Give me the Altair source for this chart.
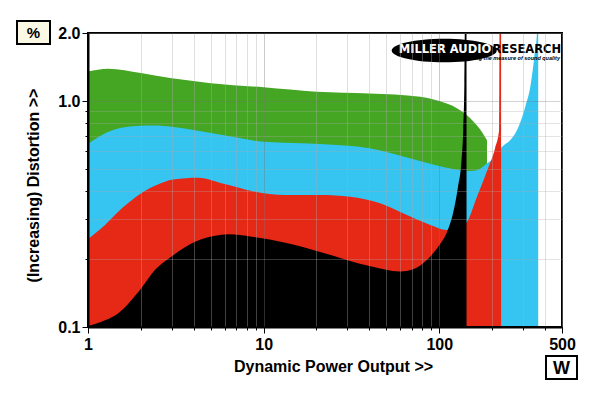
import altair as alt
import pandas as pd

# ---- data (power in W, distortion in %) ----
green_w = [1, 1.3, 2, 3, 5, 10, 20, 40, 78, 100, 126, 140, 157, 175, 187]
green_pct = [1.35, 1.39, 1.33, 1.26, 1.2, 1.15, 1.10, 1.08, 1.045, 1.0, 0.93, 0.88, 0.81, 0.73, 0.67]

blue_w = [1, 1.2, 1.5, 2, 2.4, 3, 4, 6.3, 10, 13, 21, 40, 68, 100, 130, 150, 165, 187,
          208, 228, 254, 283, 309, 330, 348, 360, 366]
blue_pct = [0.645, 0.707, 0.757, 0.778, 0.78, 0.77, 0.744, 0.70, 0.66, 0.654, 0.645, 0.618,
            0.558, 0.516, 0.495, 0.49, 0.495, 0.53, 0.567, 0.628, 0.672, 0.77, 0.944, 1.157,
            1.57, 2.0, 3.0]

red_w = [1, 1.25, 1.56, 2, 2.46, 3.06, 4.25, 6, 8.56, 13.3, 21, 31, 46, 62.6, 89, 110, 125,
         142, 164, 187, 208, 219, 221, 225]
red_pct = [0.245, 0.283, 0.335, 0.39, 0.425, 0.45, 0.458, 0.429, 0.40, 0.384, 0.384, 0.377,
           0.353, 0.318, 0.283, 0.269, 0.275, 0.288, 0.377, 0.49, 0.62, 0.74, 3.0, 3.0]

black_w = [1, 1.25, 1.49, 1.7, 1.98, 2.41, 3.06, 4.07, 5.3, 6.3, 8.56, 13.3, 21, 40, 60, 71,
           85, 100, 110, 120, 128, 134, 137, 139, 140.5, 143]
black_pct = [0.101, 0.107, 0.115, 0.127, 0.146, 0.179, 0.208, 0.2385, 0.2535, 0.257, 0.251,
             0.236, 0.215, 0.186, 0.176, 0.18, 0.198, 0.23, 0.26, 0.32, 0.42, 0.55, 0.75,
             1.2, 3.0, 3.0]

x_ticks = [1, 2, 3, 4, 5, 6, 7, 8, 9, 10, 20, 30, 40, 50, 60, 70, 80, 90,
           100, 200, 300, 400, 500]
x_labels = [1, 10, 100, 500]
y_ticks = [0.1, 0.2, 0.3, 0.4, 0.5, 0.6, 0.7, 0.8, 0.9, 1.0, 2.0]
y_labels = [0.1, 1.0, 2.0]

GREEN = "#44A622"
BLUE = "#36C4F0"
RED = "#E62816"
BLACK = "#000000"
CREAM = "#FBF8E4"
FONT = "Liberation Sans"

W, H = 474, 294

x_scale = alt.Scale(type="log", domain=[1, 500], nice=False)
y_scale = alt.Scale(type="log", domain=[0.1, 2.0], nice=False)

x_lab_test = " || ".join(f"datum.value == {v}" for v in x_labels)
y_lab_test = " || ".join(f"datum.value == {v}" for v in y_labels)

x_axis = alt.Axis(
    values=x_ticks,
    labelExpr=f"({x_lab_test}) ? format(datum.value, 'd') : ''",
    labelFlush=False, labelOverlap=False,
    labelFont=FONT, labelFontSize=16, labelFontWeight="bold", labelColor="black",
    labelPadding=3,
    tickSize={"condition": {"test": x_lab_test, "value": 6}, "value": 3},
    tickColor="black", tickWidth=1,
    domainColor="black", domainWidth=2,
    grid=True,
    gridColor={"condition": {"test": "datum.value == 10 || datum.value == 100", "value": "#777777"}, "value": "#AAAAAA"},
    gridOpacity=0.38, gridWidth=1,
    title="Dynamic Power Output >>",
    titleFont=FONT, titleFontSize=16, titleFontWeight="bold", titleColor="black",
    titleX=245, titleY=39, titleBaseline="middle", titleAlign="center",
    zindex=1,
)
y_axis = alt.Axis(
    values=y_ticks,
    labelExpr=f"({y_lab_test}) ? format(datum.value, '.1f') : ''",
    labelFlush=False, labelOverlap=False,
    labelFont=FONT, labelFontSize=16, labelFontWeight="bold", labelColor="black",
    labelPadding=2,
    tickSize={"condition": {"test": y_lab_test, "value": 6}, "value": 3},
    tickColor="black", tickWidth=1,
    domainColor="black", domainWidth=2,
    grid=True,
    gridColor={"condition": {"test": "datum.value == 1", "value": "#777777"}, "value": "#AAAAAA"},
    gridOpacity=0.32, gridWidth=1,
    title="(Increasing) Distortion >>",
    titleFont=FONT, titleFontSize=16, titleFontWeight="bold", titleColor="black",
    titleX=-55, titleY=152, titleAngle=-90, titleBaseline="middle", titleAlign="center",
    zindex=1,
)


def frame(w, p):
    return pd.DataFrame({"power": w, "dist": p})


def area(df, color):
    return alt.Chart(df).mark_area(color=color, interpolate="monotone", clip=True, opacity=1).encode(
        x=alt.X("power:Q", scale=x_scale, axis=x_axis),
        y=alt.Y("dist:Q", scale=y_scale, axis=y_axis),
        y2=alt.datum(0.1),
    )


green = area(frame(green_w, green_pct), GREEN)
blue = area(frame(blue_w, blue_pct), BLUE)
red = area(frame(red_w, red_pct), RED)
black = area(frame(black_w, black_pct), BLACK)

one = pd.DataFrame({"a": [0]})

border = alt.Chart(one).mark_rect(fill=None, stroke="black", strokeWidth=2, clip=False).encode(
    x=alt.value(0), x2=alt.value(W), y=alt.value(0), y2=alt.value(H))

pct_box = alt.Chart(one).mark_rect(fill=CREAM, stroke="black", strokeWidth=2, clip=False).encode(
    x=alt.value(-71), x2=alt.value(-38), y=alt.value(-12), y2=alt.value(11))
pct_txt = alt.Chart(one).mark_text(text="%", font=FONT, fontSize=15, fontWeight="bold",
                                   color="black", baseline="middle", align="center").encode(
    x=alt.value(-54.5), y=alt.value(0))

w_box = alt.Chart(one).mark_rect(fill="white", stroke="black", strokeWidth=2, clip=False).encode(
    x=alt.value(458), x2=alt.value(489), y=alt.value(323), y2=alt.value(346))
w_txt = alt.Chart(one).mark_text(text="W", font=FONT, fontSize=18, fontWeight="bold",
                                 color="black", baseline="middle", align="center").encode(
    x=alt.value(473.5), y=alt.value(335.5))

ry = 0.225
k = 0.5523
ellipse_path = (
    f"M-1,0 C-1,{-ry * k:.4f} {-k:.4f},{-ry} 0,{-ry} "
    f"C{k:.4f},{-ry} 1,{-ry * k:.4f} 1,0 "
    f"C1,{ry * k:.4f} {k:.4f},{ry} 0,{ry} "
    f"C{-k:.4f},{ry} -1,{ry * k:.4f} -1,0 Z"
)
logo_ellipse = alt.Chart(one).mark_point(shape=ellipse_path, filled=True, fill="black",
                                         strokeWidth=0, opacity=1,
                                         size=105 * 105).encode(
    x=alt.value(356.2), y=alt.value(17.5))
logo_miller = alt.Chart(one).mark_text(text="MILLER AUDIO", font="DejaVu Sans", fontSize=11.5,
                                       fontWeight="bold", color="white", baseline="middle",
                                       align="center").encode(
    x=alt.value(357), y=alt.value(16.5))
logo_research = alt.Chart(one).mark_text(text="RESEARCH", font="DejaVu Sans", fontSize=11.5,
                                         fontWeight="bold", color="black", baseline="middle",
                                         align="left").encode(
    x=alt.value(404.5), y=alt.value(16.5))
logo_tag = alt.Chart(one).mark_text(text="Getting the measure of sound quality", font=FONT,
                                    fontSize=5.5, fontWeight="bold", fontStyle="italic",
                                    color="black", baseline="middle", align="right").encode(
    x=alt.value(472), y=alt.value(24.5))

chart = alt.layer(
    green, blue, red, black, border,
    logo_ellipse, logo_miller, logo_research, logo_tag,
    pct_box, pct_txt, w_box, w_txt,
).properties(
    width=W, height=H,
    padding={"left": 80, "top": 25, "right": 30, "bottom": 58},
    autosize=alt.AutoSizeParams(type="none"),
).configure_view(
    fill=CREAM, stroke=None,
).configure(background="white")

chart.save("out.html", embed_options={"renderer": "svg", "actions": False})
